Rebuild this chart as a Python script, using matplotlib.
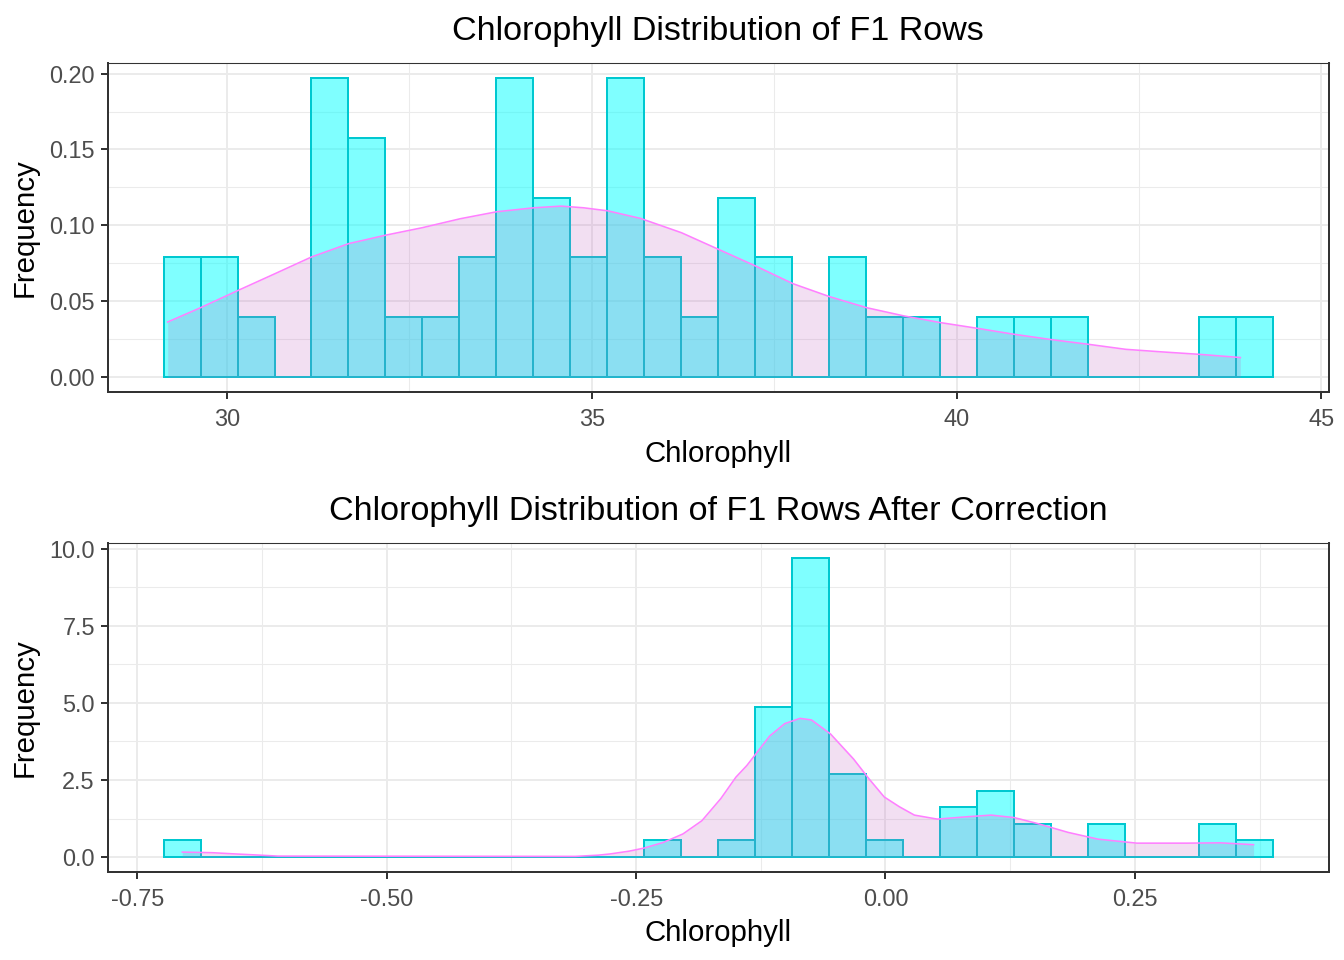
import numpy as np
import matplotlib
matplotlib.use('Agg')
import matplotlib.pyplot as plt
from matplotlib.ticker import MultipleLocator, FormatStrFormatter

plt.rcParams['font.family'] = ['Liberation Sans', 'DejaVu Sans']

# Histogram counts (30 bins), n = 50 per panel
raw_lo, raw_hi = 29.133, 44.340
raw_counts = [2, 2, 1, 0, 5, 4, 1, 1, 2, 5, 3, 2, 5, 2, 1,
              3, 2, 0, 2, 1, 1, 0, 1, 1, 1, 0, 0, 0, 1, 1]

cor_lo, cor_hi = -0.7238, 0.3887
cor_counts = [1, 0, 0, 0, 0, 0, 0, 0, 0, 0, 0, 0, 0, 1, 0,
              1, 9, 18, 5, 1, 0, 3, 4, 2, 0, 2, 0, 0, 2, 1]

# Density curves
raw_dens_x = [29.19, 29.64, 30.155, 30.66, 31.16, 31.67, 32.18, 32.68, 33.2,
              33.70, 34.21, 34.58, 34.89, 35.22, 35.67, 36.23, 36.74, 37.25,
              37.76, 38.26, 38.77, 39.28, 39.78, 40.29, 40.79, 41.30, 41.81,
              42.32, 42.82, 43.33, 43.89]
raw_dens_y = [0.0364, 0.0458, 0.0572, 0.0682, 0.0792, 0.088, 0.0936, 0.0985,
              0.1044, 0.109, 0.1116, 0.1127, 0.1116, 0.1096, 0.1046, 0.0952,
              0.0842, 0.0732, 0.0616, 0.0531, 0.0458, 0.0404, 0.036, 0.0322,
              0.0283, 0.0248, 0.0217, 0.0184, 0.0167, 0.0151, 0.013]

cor_dens_x = [-0.705, -0.675, -0.652, -0.633, -0.609, -0.311, -0.288, -0.276,
              -0.257, -0.242, -0.223, -0.203, -0.184, -0.165, -0.150, -0.139,
              -0.116, -0.101, -0.0857, -0.0742, -0.055, -0.032, -0.0166,
              -0.0013, 0.014, 0.029, 0.052, 0.083, 0.106, 0.129, 0.152, 0.183,
              0.213, 0.252, 0.302, 0.336, 0.369]
cor_dens_y = [0.16, 0.14, 0.10, 0.07, 0.03, 0.02, 0.06, 0.10, 0.19, 0.29, 0.47,
              0.75, 1.18, 1.9, 2.59, 2.97, 3.93, 4.33, 4.5, 4.45, 3.99, 3.18,
              2.54, 1.95, 1.63, 1.36, 1.23, 1.31, 1.36, 1.28, 1.09, 0.80, 0.58,
              0.45, 0.45, 0.46, 0.40]

panels = [
    ('Chlorophyll Distribution of F1 Rows', raw_lo, raw_hi, raw_counts,
     raw_dens_x, raw_dens_y, 5, 2.5, 0.05, 0.025, '%g', '%.2f'),
    ('Chlorophyll Distribution of F1 Rows After Correction', cor_lo, cor_hi,
     cor_counts, cor_dens_x, cor_dens_y, 0.25, 0.125, 2.5, 1.25, '%.2f', '%.1f'),
]

fig = plt.figure(figsize=(7, 5), dpi=192)
boxes = [[0.0804, 0.5914, 0.9082, 0.3433], [0.0804, 0.0917, 0.9082, 0.3427]]

for box, (title, lo, hi, counts, dx, dy, xmaj, xmin, ymaj, ymin, xfmt, yfmt) in zip(boxes, panels):
    ax = fig.add_axes(box)
    edges = np.linspace(lo, hi, len(counts) + 1)
    width = edges[1] - edges[0]
    dens = np.array(counts) / (sum(counts) * width)

    ax.bar(edges[:-1], dens, width=width, align='edge', color='#00FFFF',
           alpha=0.5, edgecolor='none', zorder=2)
    ax.bar(edges[:-1], dens, width=width, align='edge', fill=False,
           edgecolor='#00C8D0', linewidth=0.75, zorder=2.5)
    ax.fill_between(dx, dy, 0, color='#C060C0', alpha=0.2, linewidth=0, zorder=3)
    ax.plot(dx, dy, color='#FF80FF', linewidth=0.6, zorder=4)

    xspan = hi - lo
    ax.set_xlim(lo - 0.05 * xspan, hi + 0.05 * xspan)
    ax.set_ylim(-0.05 * dens.max(), 1.05 * dens.max())

    ax.xaxis.set_major_locator(MultipleLocator(xmaj))
    ax.xaxis.set_minor_locator(MultipleLocator(xmin))
    ax.yaxis.set_major_locator(MultipleLocator(ymaj))
    ax.yaxis.set_minor_locator(MultipleLocator(ymin))
    ax.xaxis.set_major_formatter(FormatStrFormatter(xfmt))
    ax.yaxis.set_major_formatter(FormatStrFormatter(yfmt))

    ax.set_axisbelow(True)
    ax.grid(which='major', color='#EBEBEB', linewidth=0.75)
    ax.grid(which='minor', color='#EBEBEB', linewidth=0.4)
    ax.tick_params(which='minor', length=0)
    ax.tick_params(which='major', length=2.75, width=0.75, color='#333333',
                   labelsize=8.8, labelcolor='#4D4D4D', pad=2.2)
    ax.tick_params(axis='x', which='major', pad=3.2)
    for side in ['left', 'bottom', 'right']:
        ax.spines[side].set_color('#333333')
        ax.spines[side].set_linewidth(0.75)
    ax.spines['top'].set_color('#333333')
    ax.spines['top'].set_linewidth(0.4)

    ax.set_title(title, fontsize=12.8, pad=8.5)
    ax.set_xlabel('Chlorophyll', fontsize=11, labelpad=3.2)
    ax.set_ylabel('Frequency', fontsize=11, labelpad=4)

fig.savefig('out.png', dpi=192, facecolor='white')
